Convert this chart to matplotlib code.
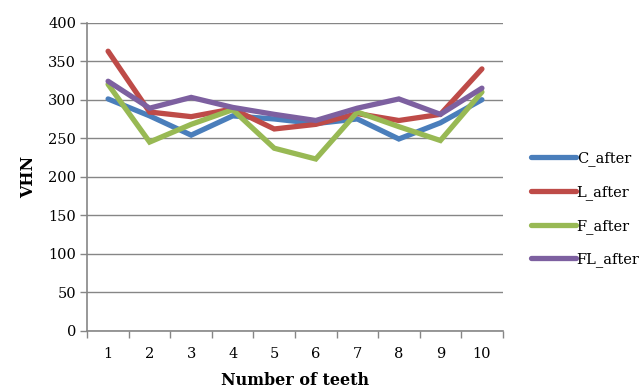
"""Vickers hardness per tooth, four groups after treatment."""
import matplotlib

matplotlib.use("Agg")
import matplotlib.pyplot as plt  # noqa: E402

teeth = [1, 2, 3, 4, 5, 6, 7, 8, 9, 10]
c_after = [301, 279, 254, 279, 275, 269, 275, 249, 270, 300]
l_after = [363, 284, 278, 288, 262, 268, 282, 273, 281, 340]
f_after = [320, 245, 268, 287, 237, 223, 284, 265, 247, 310]
fl_after = [324, 289, 303, 290, 281, 273, 289, 301, 281, 315]

SERIES = [
    ("C_after", c_after, "#4A7EBB"),
    ("L_after", l_after, "#BE4B48"),
    ("F_after", f_after, "#98B954"),
    ("FL_after", fl_after, "#7D60A0"),
]
AXIS_GREY = "#868686"

plt.rcParams["font.family"] = ["DejaVu Serif"]

fig = plt.figure(figsize=(6.43, 3.89), dpi=100)
ax = fig.add_axes([0.1358, 0.1499, 0.6460, 0.7917])

for label, values, color in SERIES:
    ax.plot(teeth, values, color=color, linewidth=3.8, label=label,
            solid_joinstyle="miter", solid_capstyle="round")

ax.set_xlim(0.5, len(teeth) + 0.5)
ax.set_ylim(0, 400)
ax.set_yticks(range(0, 401, 50))
ax.set_xticks(teeth)
ax.set_xticks([t + 0.5 for t in [0] + teeth], minor=True)
ax.tick_params(axis="x", which="major", length=0, pad=12, labelsize=10.5)
ax.tick_params(axis="x", which="minor", length=5, color=AXIS_GREY, width=1)
ax.tick_params(axis="y", length=5, color=AXIS_GREY, width=1, labelsize=10.5, pad=3)

ax.grid(axis="y", color=AXIS_GREY, linewidth=1)
ax.set_axisbelow(True)
for side in ("top", "right"):
    ax.spines[side].set_visible(False)
for side in ("left", "bottom"):
    ax.spines[side].set_color(AXIS_GREY)
    ax.spines[side].set_linewidth(1.2)

ax.set_xlabel("Number of teeth", fontsize=11.5, fontweight="bold", labelpad=8)
ax.set_ylabel("VHN", fontsize=11.5, fontweight="bold", labelpad=8)

fig.legend(loc="center left", bbox_to_anchor=(0.814, 0.462), frameon=False,
           fontsize=10.5, handlelength=3.1, handletextpad=0.05,
           labelspacing=1.3, borderpad=0)

fig.savefig("out.png", dpi=100)
